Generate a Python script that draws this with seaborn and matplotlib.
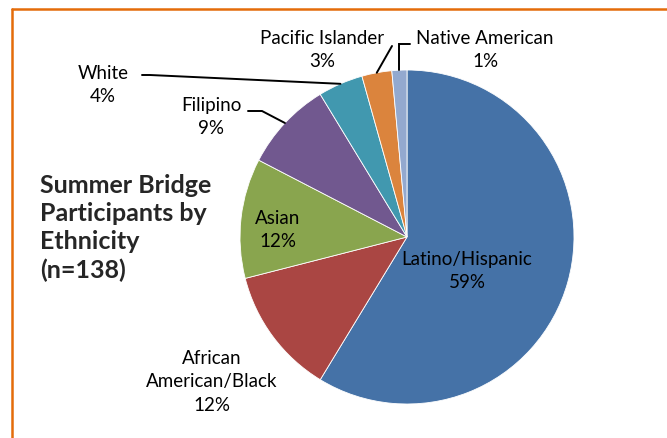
import numpy as np
import pandas as pd
import matplotlib
matplotlib.use("Agg")
import matplotlib.pyplot as plt
from matplotlib.lines import Line2D
import seaborn as sns

# ---- data ----
categories = ["Latino/Hispanic", "African\nAmerican/Black", "Asian", "Filipino",
              "White", "Pacific Islander", "Native American"]
counts = [81, 17, 16, 12, 6, 4, 2]
colors = ["#4572A7", "#AA4643", "#89A54E", "#71588F", "#4198AF", "#DB843D", "#93A9CF"]
title_text = "Summer Bridge\nParticipants by\nEthnicity\n(n=138)"

df = pd.DataFrame({"category": categories, "count": counts})
df["pct"] = 100 * df["count"] / df["count"].sum()

sns.set_style("white")
plt.rcParams["font.family"] = ["Lato", "DejaVu Sans"]

W, H = 667, 438
fig = plt.figure(figsize=(W / 100, H / 100), dpi=100)
cx, cy, R = 407, 237, 167
ax = fig.add_axes([(cx - R) / W, (H - cy - R) / H, 2 * R / W, 2 * R / H])

wedges, _ = ax.pie(df["count"], colors=colors, startangle=90, counterclock=False,
                   radius=1.0, wedgeprops=dict(linewidth=0.6, edgecolor="white"))
ax.set_xlim(-1, 1)
ax.set_ylim(-1, 1)
ax.set_aspect("equal")
ax.axis("off")

def px(x, y):
    return ((x - cx) / R, (cy - y) / R)

# label positions (layout, in pixel space of the figure)
label_pos = {
    "Latino/Hispanic": (467, 271),
    "African\nAmerican/Black": (212, 382),
    "Asian": (278, 230),
    "Filipino": (211, 117),
    "White": (103, 85),
    "Pacific Islander": (322, 50),
    "Native American": (485, 50),
}
# leader line starting points (text side), with optional elbow
leaders = {
    "Filipino": [(248, 111), (262, 111)],
    "White": [(142, 75), (150, 75)],
    "Pacific Islander": [(392, 46)],
    "Native American": [(410, 44), (399, 44)],
}

for w, (_, row) in zip(wedges, df.iterrows()):
    cat = row["category"]
    txt = f"{cat}\n{row['pct']:.0f}%"
    lx, ly = px(*label_pos[cat])
    ax.text(lx, ly, txt, ha="center", va="center", fontsize=13.5, color="black",
            linespacing=1.43, clip_on=False)
    if cat in leaders:
        ang = np.deg2rad((w.theta1 + w.theta2) / 2)
        pts = [px(*p) for p in leaders[cat]]
        end = (np.cos(ang), np.sin(ang))
        if cat == "Native American":
            end = (pts[-1][0], np.sin(np.arccos(np.clip(pts[-1][0], -1, 1))))
        xs = [p[0] for p in pts] + [end[0]]
        ys = [p[1] for p in pts] + [end[1]]
        ax.plot(xs, ys, color="black", lw=1.4, clip_on=False, solid_joinstyle="miter")

fig.text(40 / W, 1 - 228 / H, title_text, ha="left", va="center", fontsize=18,
         fontweight="bold", linespacing=1.28)

# orange frame (left and top edges visible)
orange = "#E46C0A"
fig.add_artist(Line2D([11.5 / W, 11.5 / W], [0, 1 - 8.5 / H], color=orange, lw=1.8,
                      transform=fig.transFigure))
fig.add_artist(Line2D([11.5 / W, 1], [1 - 8.5 / H, 1 - 8.5 / H], color=orange, lw=1.8,
                      transform=fig.transFigure))

fig.savefig("out.png", dpi=100, facecolor="white")
